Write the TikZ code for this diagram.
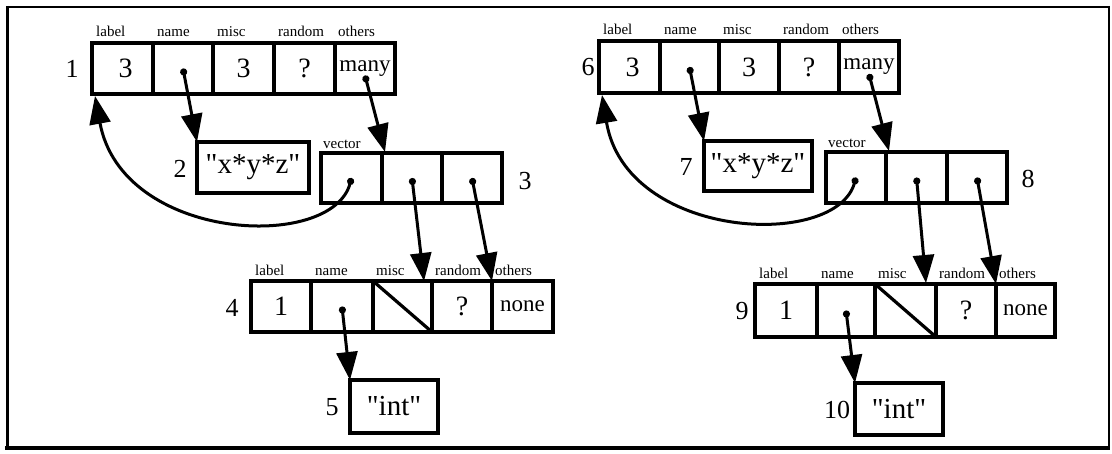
\documentclass[tikz,border=0pt]{standalone}
\usepackage{fontspec}
\setmainfont{Liberation Serif}
\newfontfamily\strfont{Liberation Serif}
\usetikzlibrary{arrows.meta,calc}
\tikzset{
  cell/.style={draw, line width=3.2pt, rectangle, inner sep=0pt, outer sep=0pt, anchor=north west, font=\fontsize{28}{32}\selectfont},
  fld/.style={anchor=base west, inner sep=0pt, font=\fontsize{15}{17}\selectfont},
  idx/.style={inner sep=0pt, font=\fontsize{26}{30}\selectfont},
  str/.style={font=\strfont\fontsize{29}{32}\selectfont},
  sm/.style={font=\fontsize{23}{26}\selectfont},
  ptr/.style={line width=3pt, {Circle[length=7pt]}-{Triangle[length=28pt,width=21pt]}},
}
\begin{document}
\begin{tikzpicture}[x=1pt,y=-1pt]
\useasboundingbox (0,0) rectangle (1112,454);
% frame
\draw[line width=2pt] (6,7) -- (1109,7);
\draw[line width=3pt] (7,6) -- (7,449);
\draw[line width=2pt] (1109,6) -- (1109,449);
\draw[line width=4pt] (5,448) -- (1110,448);

% ===== left structure =====
% record 1
\node[cell, minimum width=61pt, minimum height=51pt] (r1a) at (92,43) {\hspace*{6pt}3};
\node[cell, minimum width=60pt, minimum height=51pt] (r1b) at (153,43) {};
\node[cell, minimum width=61pt, minimum height=51pt] (r1c) at (213,43) {3};
\node[cell, minimum width=61pt, minimum height=51pt] (r1d) at (274,43) {?};
\node[cell, minimum width=60pt, minimum height=51pt, sm] (r1e) at (335,43) {\raisebox{2pt}{many}};
\node[fld] (f1a) at ($(r1a.north west)+(4,-6)$) {label};
\node[fld] (f1b) at ($(r1b.north west)+(4,-6)$) {name};
\node[fld] (f1c) at ($(r1c.north west)+(4,-6)$) {misc};
\node[fld] (f1d) at ($(r1d.north west)+(4,-6)$) {random};
\node[fld] (f1e) at ($(r1e.north west)+(3,-6)$) {others};
\node[idx] (n1) at (72,69) {1};
% node 2
\node[cell, minimum width=112pt, minimum height=51pt, str] (s2) at (197,142) {"x*y*z"};
\node[idx] (n2) at (180,169) {2};
% vector 3
\node[cell, minimum width=61pt, minimum height=50pt] (v3a) at (321,153) {};
\node[cell, minimum width=60pt, minimum height=50pt] (v3b) at (382,153) {};
\node[cell, minimum width=60pt, minimum height=50pt] (v3c) at (442,153) {};
\node[fld] (f3) at ($(v3a.north west)+(2,-4)$) {vector};
\node[idx] (n3) at (525,181) {3};
% record 4
\node[cell, minimum width=60pt, minimum height=51pt] (r4a) at (251,281) {1};
\node[cell, minimum width=62pt, minimum height=51pt] (r4b) at (311,281) {};
\node[cell, minimum width=59pt, minimum height=51pt] (r4c) at (373,281) {};
\node[cell, minimum width=60pt, minimum height=51pt] (r4d) at (432,281) {?};
\node[cell, minimum width=61pt, minimum height=51pt, sm] (r4e) at (492,281) {none};
\draw[line width=3.2pt] (r4c.north west) -- (r4c.south east);
\node[fld] (f4a) at ($(r4a.north west)+(4,-5)$) {label};
\node[fld] (f4b) at ($(r4b.north west)+(4,-5)$) {name};
\node[fld] (f4c) at ($(r4c.north west)+(3,-5)$) {misc};
\node[fld] (f4d) at ($(r4d.north west)+(3,-5)$) {random};
\node[fld] (f4e) at ($(r4e.north west)+(3,-5)$) {others};
\node[idx] (n4) at (232,308) {4};
% node 5
\node[cell, minimum width=88pt, minimum height=53pt, str] (s5) at (350,380) {"int"};
\node[idx] (n5) at (332,407) {5};
% pointers
\draw[ptr] (r1b.center) -- (s2.north west);
\draw[ptr] ($(r1e.center)+(0,7)$) -- ($(v3b.north west)+(3,-1)$);
\draw[ptr] (v3b.center) -- ($(r4c.north east)+(-8,0)$);
\draw[ptr] (v3c.center) -- (r4e.north west);
\draw[ptr] (r4b.center) -- (s5.north west);
\draw[ptr] (v3a.center) .. controls (332,252) and (122,242) .. ($(r1a.south west)+(3,2)$);

% ===== right structure =====
% record 6
\node[cell, minimum width=61pt, minimum height=52pt] (r6a) at (599,41) {\hspace*{6pt}3};
\node[cell, minimum width=59pt, minimum height=52pt] (r6b) at (660,41) {};
\node[cell, minimum width=60pt, minimum height=52pt] (r6c) at (719,41) {3};
\node[cell, minimum width=60pt, minimum height=52pt] (r6d) at (779,41) {?};
\node[cell, minimum width=60pt, minimum height=52pt, sm] (r6e) at (839,41) {\raisebox{2pt}{many}};
\node[fld] (f6a) at ($(r6a.north west)+(4,-6)$) {label};
\node[fld] (f6b) at ($(r6b.north west)+(4,-6)$) {name};
\node[fld] (f6c) at ($(r6c.north west)+(4,-6)$) {misc};
\node[fld] (f6d) at ($(r6d.north west)+(4,-6)$) {random};
\node[fld] (f6e) at ($(r6e.north west)+(3,-6)$) {others};
\node[idx] (n6) at (588,67) {6};
% node 7
\node[cell, minimum width=108pt, minimum height=50pt, str] (s7) at (704,141) {"x*y*z"};
\node[idx] (n7) at (686,167) {7};
% vector 8
\node[cell, minimum width=60pt, minimum height=51pt] (v8a) at (826,152) {};
\node[cell, minimum width=61pt, minimum height=51pt] (v8b) at (886,152) {};
\node[cell, minimum width=60pt, minimum height=51pt] (v8c) at (947,152) {};
\node[fld] (f8) at ($(v8a.north west)+(2,-4)$) {vector};
\node[idx] (n8) at (1028,179) {8};
% record 9
\node[cell, minimum width=62pt, minimum height=53pt] (r9a) at (755,284) {1};
\node[cell, minimum width=58pt, minimum height=53pt] (r9b) at (817,284) {};
\node[cell, minimum width=61pt, minimum height=53pt] (r9c) at (875,284) {};
\node[cell, minimum width=60pt, minimum height=53pt] (r9d) at (936,284) {?};
\node[cell, minimum width=59pt, minimum height=53pt, sm] (r9e) at (996,284) {none};
\draw[line width=3.2pt] (r9c.north west) -- (r9c.south east);
\node[fld] (f9a) at ($(r9a.north west)+(4,-5)$) {label};
\node[fld] (f9b) at ($(r9b.north west)+(4,-5)$) {name};
\node[fld] (f9c) at ($(r9c.north west)+(3,-5)$) {misc};
\node[fld] (f9d) at ($(r9d.north west)+(3,-5)$) {random};
\node[fld] (f9e) at ($(r9e.north west)+(3,-5)$) {others};
\node[idx] (n9) at (742,311) {9};
% node 10
\node[cell, minimum width=88pt, minimum height=52pt, str] (s10) at (855,383) {"int"};
\node[idx] (n10) at (837,410) {10};
% pointers
\draw[ptr] (r6b.center) -- (s7.north west);
\draw[ptr] ($(r6e.center)+(0,7)$) -- ($(v8b.north west)+(3,-1)$);
\draw[ptr] (v8b.center) -- ($(r9c.north east)+(-10,-1)$);
\draw[ptr] (v8c.center) -- (r9e.north west);
\draw[ptr] (r9b.center) -- (s10.north west);
\draw[ptr] (v8a.center) .. controls (836,250) and (626,240) .. ($(r6a.south west)+(3,2)$);
\end{tikzpicture}
\end{document}
